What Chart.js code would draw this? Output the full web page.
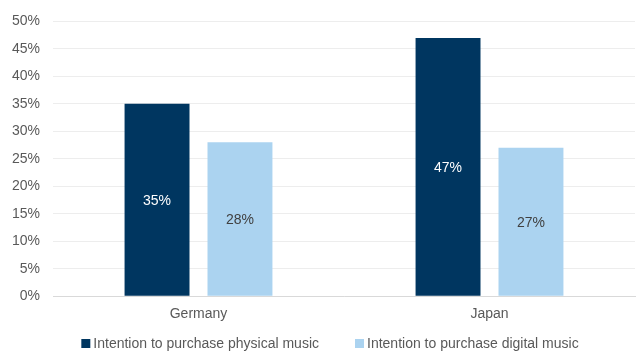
<!DOCTYPE html>
<html>
<head>
<meta charset="utf-8">
<script src="https://cdn.jsdelivr.net/npm/chart.js@4"></script>
<style>
  html, body { margin: 0; padding: 0; background: #fff; }
  #wrap { width: 637px; height: 352px; }
</style>
</head>
<body>
<div id="wrap"><canvas id="chart" width="637" height="352"></canvas></div>
<script>
// DATA
const countries = ["Germany", "Japan"];
const physicalMusic = [35, 47];
const digitalMusic = [28, 27];
const seriesNames = ["Intention to purchase physical music", "Intention to purchase digital music"];

const darkBlue = "#003660";
const lightBlue = "#abd3f0";
const FONT = "14px 'Liberation Sans', Arial, sans-serif";

// bar value labels, drawn in the middle of each bar
const barLabels = {
    id: "barLabels",
    afterDatasetsDraw(chart) {
        const ctx = chart.ctx;
        ctx.save();
        ctx.font = FONT;
        ctx.textAlign = "center";
        ctx.textBaseline = "middle";
        chart.data.datasets.forEach((ds, i) => {
            const meta = chart.getDatasetMeta(i);
            meta.data.forEach((bar, j) => {
                ctx.fillStyle = i === 0 ? "#ffffff" : "#404040";
                const mid = (bar.y + bar.base) / 2;
                ctx.fillText(ds.data[j] + "%", bar.x, mid + 1);
            });
        });
        ctx.restore();
    }
};

// legend at the bottom, small square markers like the original
const bottomLegend = {
    id: "bottomLegend",
    afterDraw(chart) {
        const ctx = chart.ctx;
        const box = 9, gap = 3, itemGap = 36;
        ctx.save();
        ctx.font = FONT;
        ctx.textBaseline = "middle";
        const items = chart.data.datasets.map(ds => ({
            text: ds.label,
            color: ds.backgroundColor,
            w: ctx.measureText(ds.label).width
        }));
        const total = items.reduce((s, it) => s + box + gap + it.w, 0) + itemGap * (items.length - 1);
        let x = 330 - total / 2;
        const y = 343;
        items.forEach(it => {
            ctx.fillStyle = it.color;
            ctx.fillRect(x, y - 4, box, box);
            ctx.fillStyle = "#595959";
            ctx.fillText(it.text, x + box + gap, y + 1);
            x += box + gap + it.w + itemGap;
        });
        ctx.restore();
    }
};

Chart.defaults.font.family = "'Liberation Sans', Arial, sans-serif";
Chart.defaults.font.size = 14;
Chart.defaults.color = "#595959";

new Chart(document.getElementById("chart"), {
    type: "bar",
    data: {
        labels: countries,
        datasets: [
            { label: seriesNames[0], data: physicalMusic, backgroundColor: darkBlue },
            { label: seriesNames[1], data: digitalMusic, backgroundColor: lightBlue }
        ]
    },
    options: {
        responsive: false,
        animation: false,
        devicePixelRatio: 1,
        categoryPercentage: 0.57,
        barPercentage: 0.783,
        layout: { padding: { left: 0, right: 2, top: 14, bottom: 19 } },
        plugins: {
            tooltip: { enabled: false },
            legend: { display: false }
        },
        scales: {
            x: {
                grid: { display: false, drawTicks: false },
                border: { color: "#d9d9d9", width: 1 },
                ticks: { padding: 10, color: "#595959" }
            },
            y: {
                min: 0,
                max: 50,
                afterFit(scale) { scale.width = 53; },
                grid: { color: "#ededed", drawTicks: false },
                border: { display: false },
                ticks: {
                    stepSize: 5,
                    padding: 13,
                    color: "#595959",
                    callback: v => v + "%"
                }
            }
        }
    },
    plugins: [barLabels, bottomLegend]
});
</script>
</body>
</html>
